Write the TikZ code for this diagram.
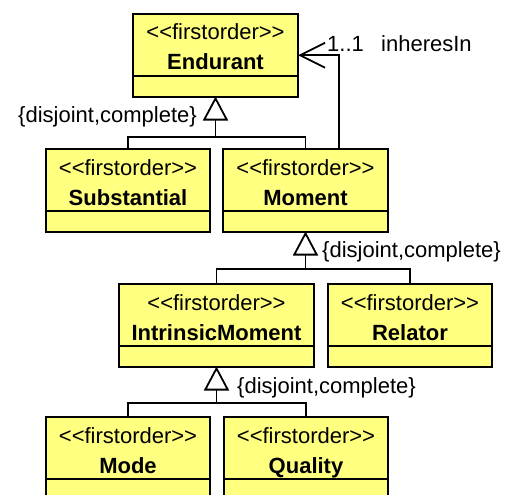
\documentclass[tikz,border=0pt]{standalone}
\usepackage{fontspec}
\setmainfont{Liberation Sans}
\usetikzlibrary{arrows.meta}
\definecolor{clsfill}{RGB}{255,255,128}
\tikzset{
  cls/.style={draw=black, line width=2pt, fill=clsfill, minimum width=#1, minimum height=82.5pt, inner sep=0pt, outer sep=0pt},
  stereo/.style={font=\fontsize{22}{26}\selectfont, inner sep=0pt, anchor=base},
  cname/.style={font=\fontsize{22}{26}\selectfont\bfseries, inner sep=0pt, anchor=base},
  lbl/.style={font=\fontsize{22}{26}\selectfont, inner sep=0pt},
  conn/.style={line width=1.8pt, black},
  gen/.style={conn, -{Triangle[open, length=24pt, width=25pt, line width=1.8pt, fill=white]}},
  assoc/.style={conn, -{Straight Barb[length=25pt, width=25pt, line width=1.8pt]}},
}
\newcommand{\umlbox}[5]{% name, cx, topy, width, label
  \node[cls=#4, anchor=north] (#1) at (#2,-#3) {};
  \draw[line width=2pt] ([yshift=-62pt]#1.north west) -- ([yshift=-62pt]#1.north east);
  \node[stereo] (#1s) at ([yshift=-26pt]#1.north) {{<}{<}firstorder{>}{>}};
  \node[cname] (#1n) at ([yshift=-56pt]#1.north) {#5};
}
\begin{document}
\begin{tikzpicture}[x=1pt, y=1pt]
\useasboundingbox (0,0) rectangle (506,-495);
\clip (0,0) rectangle (506,-495);
\umlbox{endurant}{215.5}{14}{165pt}{Endurant}
\umlbox{subst}{128}{149}{164pt}{Substantial}
\umlbox{moment}{305.5}{149}{165pt}{Moment}
\umlbox{intrinsic}{216.5}{284}{195pt}{IntrinsicMoment}
\umlbox{relator}{410}{284}{164pt}{Relator}
\umlbox{mode}{128}{417}{164pt}{Mode}
\umlbox{quality}{306}{417}{164pt}{Quality}
% generalization 1
\coordinate (j1) at (215.5,-137);
\draw[conn] (subst.north) |- (j1);
\draw[conn] (moment.north) |- (j1);
\draw[gen] (j1) -- (endurant.south);
\node[lbl, anchor=east] (g1) at (197,-117) {\{disjoint,complete\}};
% generalization 2
\coordinate (j2) at (305.5,-269);
\draw[conn] (intrinsic.north) |- (j2);
\draw[conn] (relator.north) |- (j2);
\draw[gen] (j2) -- (moment.south);
\node[lbl, anchor=west] (g2) at (322,-252) {\{disjoint,complete\}};
% generalization 3
\coordinate (j3) at (216.5,-403);
\draw[conn] (mode.north) |- (j3);
\draw[conn] (quality.north) |- (j3);
\draw[gen] (j3) -- (intrinsic.south);
\node[lbl, anchor=west] (g3) at (237,-388) {\{disjoint,complete\}};
% association
\coordinate (a0) at ([xshift=33.5pt]moment.north);
\draw[assoc] (a0) |- (endurant.east);
\node[lbl, anchor=west] (m1) at (327,-44) {1..1};
\node[lbl, anchor=west] (r1) at (381,-44) {inheresIn};
\end{tikzpicture}
\end{document}
